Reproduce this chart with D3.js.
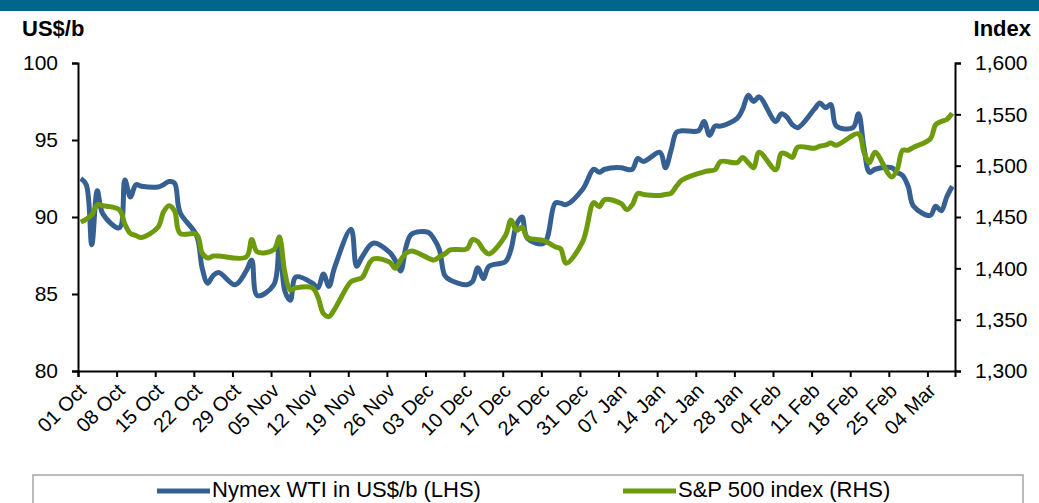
<!DOCTYPE html>
<html>
<head>
<meta charset="utf-8">
<script src="https://cdn.jsdelivr.net/npm/d3@7"></script>
<style>
  body { margin: 0; background: #fff; }
  svg { display: block; font-family: "Liberation Sans", Arial, sans-serif; }
</style>
</head>
<body>
<svg id="chart"></svg>
<script>
// trading days shown on the chart (Oct 2012 - Mar 2013)
const days = [
  "2012-10-01","2012-10-02","2012-10-03","2012-10-04","2012-10-05","2012-10-08","2012-10-09","2012-10-10","2012-10-11","2012-10-12",
  "2012-10-15","2012-10-16","2012-10-17","2012-10-18","2012-10-19","2012-10-22","2012-10-23","2012-10-24","2012-10-25","2012-10-26",
  "2012-10-29","2012-10-31","2012-11-01","2012-11-02","2012-11-05","2012-11-06","2012-11-07","2012-11-08","2012-11-09","2012-11-12",
  "2012-11-13","2012-11-14","2012-11-15","2012-11-16","2012-11-19","2012-11-20","2012-11-21","2012-11-23","2012-11-26","2012-11-27",
  "2012-11-28","2012-11-29","2012-11-30","2012-12-03","2012-12-04","2012-12-05","2012-12-06","2012-12-07","2012-12-10","2012-12-11",
  "2012-12-12","2012-12-13","2012-12-14","2012-12-17","2012-12-18","2012-12-19","2012-12-20","2012-12-21","2012-12-24","2012-12-26",
  "2012-12-27","2012-12-28","2012-12-31","2013-01-02","2013-01-03","2013-01-04","2013-01-07","2013-01-08","2013-01-09","2013-01-10",
  "2013-01-11","2013-01-14","2013-01-15","2013-01-16","2013-01-17","2013-01-18","2013-01-21","2013-01-22","2013-01-23","2013-01-24",
  "2013-01-25","2013-01-28","2013-01-29","2013-01-30","2013-01-31","2013-02-01","2013-02-04","2013-02-05","2013-02-06","2013-02-07",
  "2013-02-08","2013-02-11","2013-02-12","2013-02-13","2013-02-14","2013-02-15","2013-02-18","2013-02-19","2013-02-20","2013-02-21",
  "2013-02-22","2013-02-25","2013-02-26","2013-02-27","2013-02-28","2013-03-01","2013-03-04","2013-03-05","2013-03-06","2013-03-07",
  "2013-03-08"
];

// Nymex WTI, US$/b (left axis)
const wti = [
  92.5, 92.1, 88.2, 91.7, 90.2, 89.3, 92.4, 91.3, 92.1, 92.0,
  91.95, 92.1, 92.3, 92.2, 90.3, 88.8, 86.7, 85.7, 86.2, 86.4,
  85.6, 86.5, 87.2, 84.9, 85.6, 88.7, 85.2, 84.6, 86.1, 85.7,
  85.4, 86.3, 85.5, 86.7, 89.2, 86.8, 87.4, 88.3, 87.7, 87.2,
  86.5, 88.1, 88.9, 89.0, 88.6, 87.9, 86.2, 85.9, 85.6, 85.8,
  86.7, 86.0, 86.8, 87.1, 87.9, 89.5, 90.0, 88.6, 88.3, 90.9,
  90.9, 90.8, 91.8, 93.1, 92.9, 93.1, 93.2, 93.1, 93.1, 93.8,
  93.6, 94.2, 93.2, 94.3, 95.5, 95.6, 95.6, 96.2, 95.3, 95.9,
  95.9, 96.4, 97.0, 97.9, 97.5, 97.8, 96.2, 96.7, 96.5, 96.0,
  95.8, 97.0, 97.4, 97.1, 97.3, 95.9, 95.8, 96.7, 94.5, 92.9,
  93.1, 93.2, 92.9, 92.7, 92.0, 90.7, 90.1, 90.7, 90.4, 91.3,
  92.0
];

// S&P 500 index (right axis), null = market closed
const spx = [
  1445, 1448, 1452, 1462, 1461, 1457, 1443, 1434, 1432, 1430,
  1440, 1455, 1461, 1456, 1434, 1433, 1415, 1410, 1412, 1412,
  null, 1411, 1428, 1416, 1418, 1430, 1396, 1379, 1381, 1381,
  1372, 1356, 1353, 1360, 1387, 1389, 1391, 1409, 1406, 1400,
  1408, 1415, 1417, 1410, 1408, 1411, 1414, 1418, 1419, 1428,
  1426, 1418, 1414, 1432, 1447, 1437, 1440, 1430, 1427, 1421,
  1419, 1405, 1426, 1464, 1460, 1467, 1463, 1457, 1462, 1473,
  1472, 1471, 1472, 1473, 1480, 1486, null, 1494, 1495, 1496,
  1504, 1503, 1508, 1503, 1498, 1513, 1496, 1512, 1511, 1508,
  1518, 1517, 1519, 1520, 1522, 1520, null, 1531, 1513, 1503,
  1513, 1489, 1496, 1515, 1515, 1518, 1526, 1540, 1543, 1545,
  1551
];

const leftTicks = [80, 85, 90, 95, 100];
const rightTicks = [1300, 1350, 1400, 1450, 1500, 1550, 1600];
const seriesNames = ["Nymex WTI in US$/b (LHS)", "S&P 500 index (RHS)"];
const colors = ["#376092", "#6e9a0e"];

const width = 1039, height = 503;
const margin = {top: 63, right: 84, bottom: 132, left: 78};
const parse = d3.timeParse("%Y-%m-%d");

const svg = d3.select("#chart")
    .attr("width", width)
    .attr("height", height);

// cut-off title banner at the top
svg.append("rect")
    .attr("x", 0).attr("y", 0)
    .attr("width", width).attr("height", 11)
    .attr("fill", "#00658c");

let x = d3.scaleTime()
    .domain([parse("2012-10-01"), parse("2013-03-09")])
    .range([margin.left, width - margin.right]);

let yL = d3.scaleLinear()
    .domain([80, 100])
    .range([height - margin.bottom, margin.top]);

let yR = d3.scaleLinear()
    .domain([1300, 1600])
    .range([height - margin.bottom, margin.top]);

// each day sits in the middle of its slot
const px = d => x(d3.timeHour.offset(parse(d), 12));

// left axis
let gl = svg.append("g")
    .attr("transform", "translate(" + margin.left + ",0)")
    .call(d3.axisLeft(yL).tickValues(leftTicks).tickSizeOuter(0).tickSize(6).tickPadding(14));

// right axis
let gr = svg.append("g")
    .attr("transform", "translate(" + (width - margin.right) + ",0)")
    .call(d3.axisRight(yR).tickValues(rightTicks).tickFormat(d3.format(",")).tickSizeOuter(0).tickSize(6).tickPadding(14));

// x axis, weekly ticks on Mondays
let gx = svg.append("g")
    .attr("transform", "translate(0," + (height - margin.bottom) + ")")
    .call(d3.axisBottom(x)
        .tickValues(d3.timeMonday.range(parse("2012-10-01"), parse("2013-03-09")))
        .tickFormat(d3.timeFormat("%d %b"))
        .tickSizeOuter(0).tickSize(6));

[gl, gr, gx].forEach(g => {
    g.selectAll("path, line").attr("stroke", "#000").attr("stroke-width", 2);
    g.selectAll("text").attr("fill", "#000").style("font-size", "21px");
});

gx.selectAll("text")
    .attr("x", 0).attr("y", 0).attr("dy", "0.35em")
    .attr("transform", "translate(4,16) rotate(-45)")
    .style("text-anchor", "end")
    .style("font-size", "20px");

// axis titles
svg.append("text")
    .attr("x", 22).attr("y", 36)
    .style("font-size", "22px").style("font-weight", "bold")
    .text("US$/b");
svg.append("text")
    .attr("x", 1031).attr("y", 36)
    .attr("text-anchor", "end")
    .style("font-size", "22px").style("font-weight", "bold")
    .text("Index");

// lines
const wtiData = days.map((d, i) => ({d: d, v: wti[i]})).filter(p => p.v != null);
const spxData = days.map((d, i) => ({d: d, v: spx[i]})).filter(p => p.v != null);

let lineL = d3.line().x(p => px(p.d)).y(p => yL(p.v)).curve(d3.curveCatmullRom.alpha(0.5));
let lineR = d3.line().x(p => px(p.d)).y(p => yR(p.v)).curve(d3.curveCatmullRom.alpha(0.5));

svg.append("path")
    .datum(wtiData)
    .attr("fill", "none")
    .attr("stroke", colors[0])
    .attr("stroke-width", 5)
    .attr("stroke-linejoin", "round")
    .attr("d", lineL);

svg.append("path")
    .datum(spxData)
    .attr("fill", "none")
    .attr("stroke", colors[1])
    .attr("stroke-width", 5)
    .attr("stroke-linejoin", "round")
    .attr("d", lineR);

// legend box (cut off at the bottom)
svg.append("rect")
    .attr("x", 33).attr("y", 475)
    .attr("width", 990).attr("height", 40)
    .attr("fill", "#fff")
    .attr("stroke", "#a6a6a6")
    .attr("stroke-width", 1.5);

const legendX = [157, 623];
seriesNames.forEach((name, i) => {
    svg.append("line")
        .attr("x1", legendX[i]).attr("x2", legendX[i] + 53)
        .attr("y1", 491).attr("y2", 491)
        .attr("stroke", colors[i]).attr("stroke-width", 5);
    svg.append("text")
        .attr("x", legendX[i] + 55).attr("y", 497)
        .style("font-size", "22px")
        .text(name);
});
</script>
</body>
</html>
